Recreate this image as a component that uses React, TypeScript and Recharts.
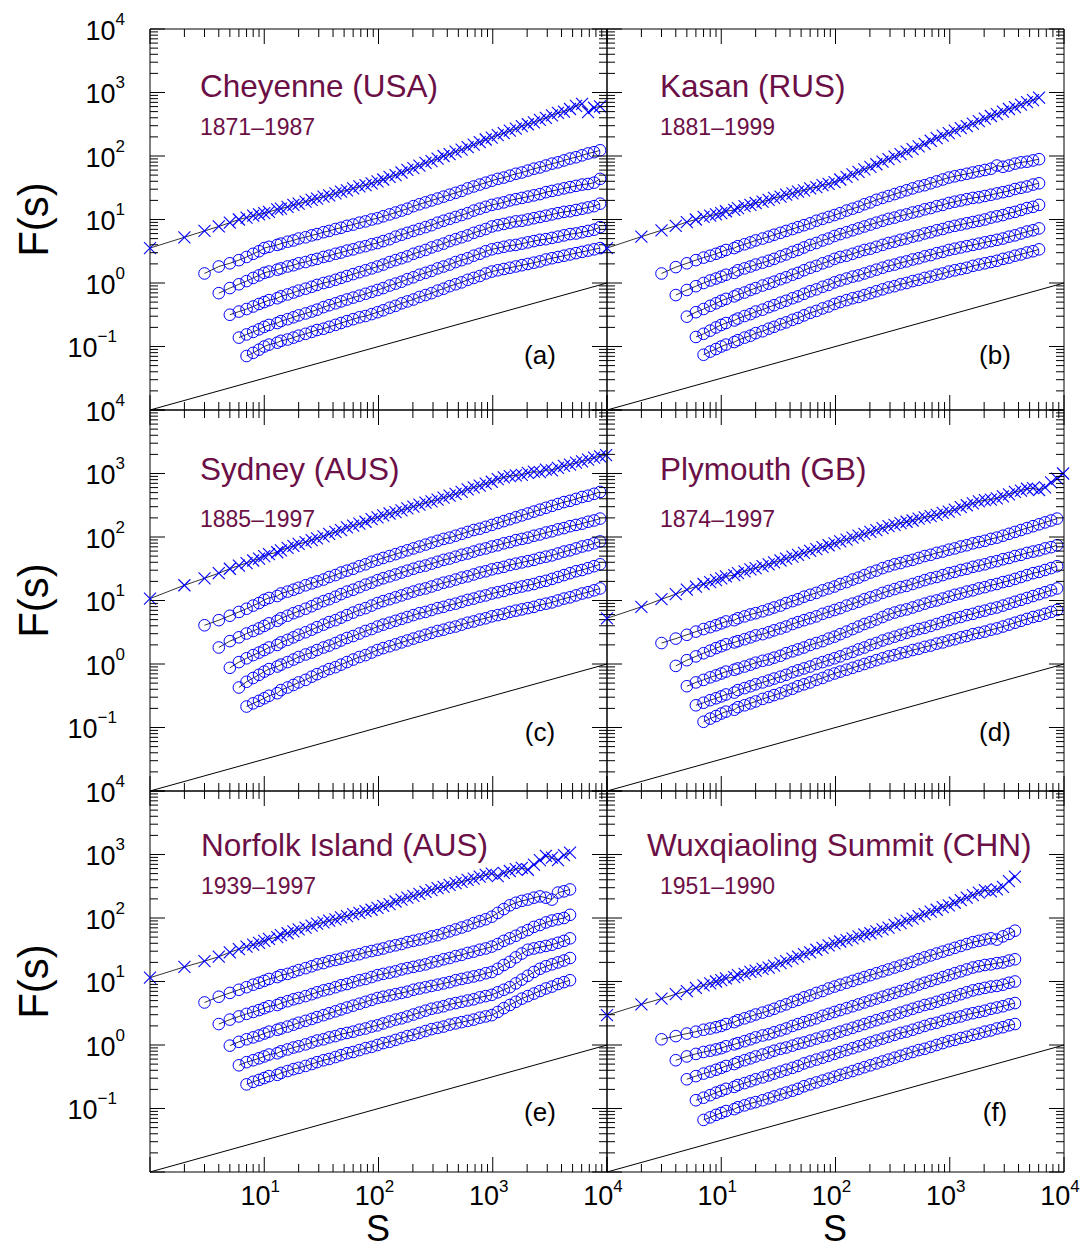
import React from 'react';
import { ScatterChart, Scatter, XAxis, YAxis } from 'recharts';

const FONT = '"Liberation Sans", Arial, Helvetica, sans-serif';
const BLUE = '#0000ff';
const MAROON = '#6b1046';

// window sizes s, shared by all six panels
const S_GRID = [
  1, 2, 3, 4, 5, 6, 7, 8, 9, 10,
  11, 13, 14, 16, 18, 20, 23, 26, 29, 33,
  37, 42, 47, 53, 60, 68, 77, 87, 98, 110,
  125, 141, 159, 179, 202, 228, 258, 291, 329, 371,
  419, 473, 534, 603, 681, 769, 868, 980, 1106, 1249,
  1410, 1592, 1797, 2029, 2291, 2586, 2920, 3297, 3722, 4202,
  4744, 5356, 6047, 6827, 7708, 8700, 9822,
];

// All series below are log10 F(s).
// Crosses start at S_GRID[0]; circles DFA1..DFA5 start at S_GRID[2]..S_GRID[6].

// (a) Cheyenne
const cheyenneCross = [
  0.55, 0.72, 0.82, 0.89, 0.95, 1.00, 1.03, 1.06, 1.08, 1.10,
  1.12, 1.16, 1.17, 1.20, 1.23, 1.25, 1.28, 1.31, 1.33, 1.36,
  1.38, 1.41, 1.44, 1.46, 1.49, 1.52, 1.54, 1.57, 1.60, 1.63,
  1.67, 1.70, 1.74, 1.78, 1.81, 1.85, 1.89, 1.92, 1.96, 2.00,
  2.03, 2.07, 2.10, 2.14, 2.18, 2.22, 2.26, 2.29, 2.33, 2.36,
  2.40, 2.43, 2.47, 2.50, 2.53, 2.57, 2.60, 2.64, 2.68, 2.70,
  2.74, 2.79, 2.82, 2.69, 2.76, 2.78,
];
const cheyenneDfa1 = [
  0.15, 0.26, 0.31, 0.36, 0.41, 0.46, 0.50, 0.55,
  0.57, 0.60, 0.62, 0.65, 0.67, 0.70, 0.72, 0.75, 0.77, 0.80,
  0.82, 0.85, 0.87, 0.90, 0.92, 0.95, 0.97, 1.00, 1.02, 1.05,
  1.08, 1.11, 1.14, 1.17, 1.21, 1.24, 1.27, 1.30, 1.33, 1.36,
  1.39, 1.42, 1.45, 1.49, 1.52, 1.55, 1.58, 1.61, 1.64, 1.66,
  1.69, 1.72, 1.74, 1.77, 1.80, 1.82, 1.85, 1.88, 1.90, 1.93,
  1.96, 1.98, 2.01, 2.04, 2.06, 2.09,
];
const cheyenneDfa2 = [
  -0.16, -0.08, -0.02, 0.03, 0.08, 0.12, 0.16,
  0.18, 0.21, 0.23, 0.26, 0.28, 0.31, 0.33, 0.36, 0.38, 0.41,
  0.43, 0.46, 0.48, 0.51, 0.53, 0.56, 0.58, 0.61, 0.63, 0.66,
  0.69, 0.73, 0.76, 0.79, 0.82, 0.85, 0.88, 0.91, 0.95, 0.98,
  1.01, 1.04, 1.07, 1.10, 1.14, 1.17, 1.20, 1.23, 1.25, 1.27,
  1.30, 1.32, 1.34, 1.36, 1.38, 1.40, 1.43, 1.45, 1.47, 1.49,
  1.51, 1.53, 1.55, 1.56, 1.58, 1.64,
];
const cheyenneDfa3 = [
  -0.50, -0.45, -0.41, -0.37, -0.33, -0.30,
  -0.27, -0.24, -0.21, -0.18, -0.15, -0.12, -0.09, -0.06, -0.03, 0.00,
  0.02, 0.05, 0.08, 0.11, 0.14, 0.17, 0.20, 0.23, 0.26, 0.29,
  0.33, 0.36, 0.39, 0.42, 0.46, 0.49, 0.52, 0.56, 0.59, 0.62,
  0.66, 0.69, 0.72, 0.75, 0.79, 0.82, 0.85, 0.89, 0.91, 0.93,
  0.95, 0.97, 0.98, 1.00, 1.02, 1.04, 1.06, 1.08, 1.10, 1.12,
  1.13, 1.15, 1.17, 1.19, 1.21, 1.25,
];
const cheyenneDfa4 = [
  -0.86, -0.81, -0.77, -0.73, -0.69,
  -0.66, -0.63, -0.60, -0.57, -0.54, -0.51, -0.48, -0.45, -0.42, -0.38,
  -0.35, -0.32, -0.29, -0.26, -0.23, -0.20, -0.17, -0.14, -0.11, -0.08,
  -0.04, -0.01, 0.02, 0.06, 0.09, 0.13, 0.16, 0.19, 0.23, 0.26,
  0.29, 0.33, 0.36, 0.39, 0.43, 0.46, 0.50, 0.53, 0.55, 0.57,
  0.59, 0.60, 0.62, 0.64, 0.66, 0.68, 0.69, 0.71, 0.73, 0.75,
  0.77, 0.78, 0.80, 0.82, 0.84, 0.88,
];
const cheyenneDfa5 = [
  -1.15, -1.10, -1.05, -1.00,
  -0.97, -0.94, -0.91, -0.89, -0.86, -0.83, -0.80, -0.77, -0.74, -0.72,
  -0.69, -0.66, -0.63, -0.60, -0.57, -0.54, -0.52, -0.49, -0.46, -0.43,
  -0.39, -0.36, -0.32, -0.29, -0.26, -0.22, -0.19, -0.16, -0.12, -0.09,
  -0.05, -0.02, 0.01, 0.05, 0.08, 0.11, 0.15, 0.18, 0.20, 0.22,
  0.24, 0.26, 0.28, 0.30, 0.32, 0.34, 0.37, 0.39, 0.41, 0.43,
  0.45, 0.47, 0.49, 0.51, 0.53, 0.55,
];

// (b) Kasan
const kasanCross = [
  0.55, 0.73, 0.83, 0.90, 0.96, 1.00, 1.04, 1.06, 1.08, 1.10,
  1.13, 1.15, 1.18, 1.21, 1.23, 1.26, 1.28, 1.31, 1.34, 1.36,
  1.39, 1.41, 1.44, 1.46, 1.49, 1.51, 1.54, 1.56, 1.59, 1.63,
  1.67, 1.71, 1.75, 1.79, 1.83, 1.87, 1.91, 1.95, 1.99, 2.03,
  2.07, 2.11, 2.15, 2.19, 2.24, 2.28, 2.32, 2.36, 2.40, 2.44,
  2.47, 2.51, 2.55, 2.59, 2.63, 2.66, 2.70, 2.74, 2.77, 2.81,
  2.85, 2.88, 2.92,
];
const kasanDfa1 = [
  0.15, 0.25, 0.31, 0.36, 0.40, 0.43, 0.46, 0.49,
  0.52, 0.55, 0.58, 0.61, 0.64, 0.67, 0.70, 0.73, 0.76, 0.79,
  0.82, 0.85, 0.88, 0.91, 0.94, 0.98, 1.01, 1.04, 1.07, 1.10,
  1.14, 1.17, 1.20, 1.24, 1.27, 1.31, 1.34, 1.37, 1.40, 1.43,
  1.46, 1.49, 1.52, 1.54, 1.57, 1.60, 1.63, 1.66, 1.68, 1.70,
  1.72, 1.74, 1.76, 1.78, 1.80, 1.85, 1.83, 1.85, 1.88, 1.90,
  1.91, 1.93, 1.95,
];
const kasanDfa2 = [
  -0.19, -0.11, -0.05, 0.00, 0.04, 0.07, 0.10,
  0.13, 0.16, 0.20, 0.23, 0.26, 0.29, 0.32, 0.35, 0.38, 0.42,
  0.45, 0.49, 0.52, 0.56, 0.60, 0.63, 0.67, 0.70, 0.74, 0.77,
  0.80, 0.83, 0.86, 0.89, 0.92, 0.95, 0.98, 1.01, 1.03, 1.06,
  1.08, 1.11, 1.13, 1.16, 1.18, 1.21, 1.23, 1.26, 1.28, 1.30,
  1.32, 1.34, 1.35, 1.37, 1.39, 1.41, 1.43, 1.45, 1.48, 1.50,
  1.52, 1.55, 1.57,
];
const kasanDfa3 = [
  -0.53, -0.46, -0.41, -0.36, -0.32, -0.28,
  -0.25, -0.21, -0.18, -0.15, -0.11, -0.08, -0.04, -0.01, 0.02, 0.06,
  0.09, 0.13, 0.16, 0.20, 0.24, 0.27, 0.31, 0.34, 0.38, 0.41,
  0.43, 0.46, 0.49, 0.52, 0.54, 0.57, 0.60, 0.63, 0.65, 0.68,
  0.70, 0.73, 0.75, 0.78, 0.80, 0.83, 0.85, 0.88, 0.90, 0.92,
  0.94, 0.96, 0.98, 1.00, 1.03, 1.05, 1.07, 1.10, 1.12, 1.15,
  1.18, 1.20, 1.23,
];
const kasanDfa4 = [
  -0.85, -0.80, -0.75, -0.70, -0.66,
  -0.63, -0.59, -0.56, -0.52, -0.49, -0.45, -0.42, -0.38, -0.35, -0.31,
  -0.28, -0.24, -0.21, -0.17, -0.13, -0.10, -0.06, -0.03, 0.01, 0.04,
  0.07, 0.10, 0.12, 0.15, 0.18, 0.21, 0.24, 0.27, 0.29, 0.32,
  0.34, 0.37, 0.39, 0.42, 0.44, 0.47, 0.49, 0.52, 0.54, 0.56,
  0.58, 0.60, 0.62, 0.64, 0.66, 0.68, 0.70, 0.73, 0.75, 0.78,
  0.81, 0.83, 0.86,
];
const kasanDfa5 = [
  -1.13, -1.08, -1.04, -1.00,
  -0.97, -0.93, -0.90, -0.86, -0.83, -0.79, -0.76, -0.72, -0.69, -0.65,
  -0.62, -0.58, -0.55, -0.51, -0.47, -0.44, -0.40, -0.37, -0.33, -0.30,
  -0.27, -0.24, -0.22, -0.19, -0.16, -0.13, -0.10, -0.07, -0.05, -0.02,
  0.00, 0.03, 0.05, 0.08, 0.10, 0.13, 0.15, 0.18, 0.20, 0.22,
  0.24, 0.27, 0.29, 0.31, 0.33, 0.35, 0.38, 0.40, 0.43, 0.45,
  0.48, 0.50, 0.53,
];

// (c) Sydney
const sydneyCross = [
  1.03, 1.24, 1.35, 1.43, 1.50, 1.55, 1.59, 1.63, 1.66, 1.70,
  1.73, 1.76, 1.79, 1.83, 1.86, 1.89, 1.92, 1.95, 1.98, 2.01,
  2.05, 2.08, 2.11, 2.15, 2.18, 2.21, 2.24, 2.28, 2.31, 2.34,
  2.37, 2.39, 2.42, 2.45, 2.48, 2.51, 2.54, 2.56, 2.59, 2.62,
  2.65, 2.68, 2.71, 2.75, 2.78, 2.81, 2.84, 2.87, 2.91, 2.94,
  2.96, 2.97, 2.98, 3.01, 3.03, 3.02, 3.06, 3.05, 3.09, 3.12,
  3.14, 3.17, 3.19, 3.22, 3.25, 3.27, 3.29,
];
const sydneyDfa1 = [
  0.61, 0.69, 0.76, 0.82, 0.87, 0.92, 0.96, 1.01,
  1.04, 1.07, 1.11, 1.14, 1.17, 1.20, 1.24, 1.27, 1.30, 1.33,
  1.37, 1.40, 1.44, 1.47, 1.50, 1.54, 1.57, 1.61, 1.64, 1.67,
  1.70, 1.73, 1.76, 1.79, 1.82, 1.85, 1.88, 1.91, 1.94, 1.97,
  1.99, 2.02, 2.05, 2.08, 2.11, 2.13, 2.16, 2.19, 2.22, 2.25,
  2.28, 2.31, 2.34, 2.37, 2.40, 2.43, 2.46, 2.49, 2.52, 2.55,
  2.57, 2.60, 2.63, 2.65, 2.68, 2.71,
];
const sydneyDfa2 = [
  0.26, 0.36, 0.42, 0.48, 0.52, 0.56, 0.60,
  0.64, 0.68, 0.72, 0.76, 0.80, 0.83, 0.87, 0.91, 0.95, 0.99,
  1.02, 1.06, 1.10, 1.14, 1.17, 1.21, 1.25, 1.28, 1.32, 1.35,
  1.38, 1.41, 1.44, 1.47, 1.50, 1.53, 1.55, 1.58, 1.61, 1.64,
  1.66, 1.69, 1.72, 1.74, 1.77, 1.80, 1.82, 1.85, 1.87, 1.90,
  1.92, 1.95, 1.97, 1.99, 2.02, 2.04, 2.07, 2.09, 2.12, 2.14,
  2.17, 2.19, 2.21, 2.24, 2.26, 2.29,
];
const sydneyDfa3 = [
  -0.06, 0.03, 0.09, 0.14, 0.18, 0.22,
  0.26, 0.30, 0.34, 0.38, 0.42, 0.46, 0.50, 0.54, 0.58, 0.62,
  0.66, 0.69, 0.73, 0.77, 0.81, 0.85, 0.88, 0.92, 0.96, 0.99,
  1.02, 1.05, 1.08, 1.11, 1.14, 1.17, 1.19, 1.22, 1.25, 1.28,
  1.30, 1.33, 1.36, 1.38, 1.41, 1.44, 1.46, 1.49, 1.51, 1.53,
  1.56, 1.58, 1.60, 1.62, 1.64, 1.67, 1.69, 1.71, 1.74, 1.77,
  1.79, 1.82, 1.85, 1.87, 1.90, 1.93,
];
const sydneyDfa4 = [
  -0.37, -0.28, -0.22, -0.17, -0.12,
  -0.08, -0.04, -0.01, 0.03, 0.07, 0.11, 0.15, 0.18, 0.22, 0.26,
  0.29, 0.33, 0.37, 0.41, 0.44, 0.48, 0.52, 0.55, 0.59, 0.62,
  0.65, 0.68, 0.71, 0.74, 0.77, 0.80, 0.82, 0.85, 0.88, 0.90,
  0.93, 0.95, 0.98, 1.01, 1.03, 1.06, 1.08, 1.11, 1.13, 1.15,
  1.18, 1.20, 1.22, 1.24, 1.26, 1.29, 1.31, 1.34, 1.37, 1.40,
  1.43, 1.46, 1.48, 1.51, 1.54, 1.57,
];
const sydneyDfa5 = [
  -0.67, -0.62, -0.58, -0.54,
  -0.50, -0.46, -0.41, -0.37, -0.33, -0.29, -0.25, -0.20, -0.16, -0.12,
  -0.08, -0.05, -0.01, 0.03, 0.07, 0.11, 0.14, 0.18, 0.22, 0.25,
  0.28, 0.31, 0.34, 0.37, 0.40, 0.43, 0.46, 0.49, 0.52, 0.54,
  0.57, 0.59, 0.62, 0.65, 0.67, 0.70, 0.72, 0.75, 0.77, 0.79,
  0.82, 0.84, 0.86, 0.88, 0.90, 0.93, 0.95, 0.97, 1.00, 1.03,
  1.05, 1.08, 1.11, 1.13, 1.16, 1.19,
];

// (d) Plymouth
const plymouthCross = [
  0.72, 0.90, 1.02, 1.10, 1.17, 1.22, 1.26, 1.29, 1.32, 1.35,
  1.38, 1.40, 1.43, 1.46, 1.49, 1.51, 1.54, 1.57, 1.60, 1.63,
  1.66, 1.69, 1.72, 1.75, 1.78, 1.81, 1.84, 1.87, 1.90, 1.93,
  1.96, 1.99, 2.02, 2.05, 2.08, 2.11, 2.14, 2.17, 2.19, 2.22,
  2.24, 2.26, 2.29, 2.31, 2.33, 2.35, 2.38, 2.40, 2.43, 2.47,
  2.50, 2.53, 2.56, 2.58, 2.59, 2.61, 2.64, 2.67, 2.71, 2.73,
  2.76, 2.77, 2.74, 2.78, 2.86, 2.92, 3.00,
];
const plymouthDfa1 = [
  0.33, 0.40, 0.46, 0.51, 0.55, 0.58, 0.61, 0.64,
  0.67, 0.69, 0.72, 0.75, 0.78, 0.80, 0.83, 0.86, 0.89, 0.92,
  0.96, 0.99, 1.02, 1.06, 1.09, 1.12, 1.16, 1.19, 1.22, 1.26,
  1.29, 1.33, 1.36, 1.40, 1.44, 1.47, 1.51, 1.54, 1.57, 1.59,
  1.62, 1.64, 1.67, 1.70, 1.72, 1.75, 1.77, 1.80, 1.82, 1.85,
  1.87, 1.90, 1.92, 1.94, 1.97, 1.99, 2.02, 2.05, 2.08, 2.11,
  2.14, 2.17, 2.20, 2.23, 2.26, 2.29,
];
const plymouthDfa2 = [
  -0.03, 0.06, 0.12, 0.17, 0.21, 0.25, 0.28,
  0.31, 0.34, 0.36, 0.39, 0.42, 0.45, 0.47, 0.50, 0.53, 0.56,
  0.59, 0.63, 0.66, 0.69, 0.72, 0.75, 0.79, 0.82, 0.85, 0.88,
  0.92, 0.95, 0.98, 1.02, 1.05, 1.08, 1.12, 1.15, 1.18, 1.21,
  1.23, 1.26, 1.29, 1.32, 1.35, 1.37, 1.40, 1.43, 1.45, 1.48,
  1.50, 1.53, 1.55, 1.57, 1.60, 1.62, 1.65, 1.67, 1.70, 1.72,
  1.75, 1.77, 1.79, 1.82, 1.84, 1.87,
];
const plymouthDfa3 = [
  -0.35, -0.29, -0.25, -0.21, -0.18, -0.15,
  -0.12, -0.09, -0.07, -0.04, -0.01, 0.02, 0.05, 0.07, 0.10, 0.13,
  0.17, 0.20, 0.23, 0.26, 0.30, 0.33, 0.36, 0.40, 0.43, 0.47,
  0.51, 0.55, 0.59, 0.63, 0.66, 0.70, 0.74, 0.78, 0.81, 0.84,
  0.86, 0.89, 0.92, 0.95, 0.98, 1.00, 1.03, 1.06, 1.09, 1.11,
  1.14, 1.16, 1.19, 1.21, 1.24, 1.26, 1.29, 1.31, 1.34, 1.37,
  1.40, 1.43, 1.45, 1.48, 1.51, 1.54,
];
const plymouthDfa4 = [
  -0.65, -0.61, -0.57, -0.54, -0.51,
  -0.48, -0.45, -0.41, -0.38, -0.35, -0.32, -0.29, -0.26, -0.23, -0.20,
  -0.17, -0.13, -0.10, -0.07, -0.04, 0.00, 0.03, 0.06, 0.09, 0.12,
  0.16, 0.19, 0.23, 0.26, 0.30, 0.33, 0.37, 0.40, 0.43, 0.46,
  0.49, 0.52, 0.55, 0.57, 0.60, 0.63, 0.66, 0.69, 0.72, 0.74,
  0.77, 0.79, 0.82, 0.84, 0.87, 0.89, 0.92, 0.95, 0.98, 1.01,
  1.04, 1.07, 1.10, 1.13, 1.16, 1.19,
];
const plymouthDfa5 = [
  -0.91, -0.86, -0.82, -0.78,
  -0.75, -0.72, -0.68, -0.65, -0.62, -0.59, -0.55, -0.52, -0.49, -0.46,
  -0.42, -0.39, -0.35, -0.32, -0.29, -0.25, -0.22, -0.18, -0.15, -0.12,
  -0.09, -0.06, -0.03, 0.00, 0.03, 0.06, 0.09, 0.12, 0.14, 0.17,
  0.19, 0.22, 0.24, 0.27, 0.29, 0.32, 0.34, 0.37, 0.39, 0.42,
  0.44, 0.47, 0.49, 0.51, 0.54, 0.56, 0.59, 0.62, 0.65, 0.68,
  0.71, 0.74, 0.76, 0.79, 0.82, 0.85,
];

// (e) Norfolk Island
const norfolkCross = [
  1.06, 1.23, 1.32, 1.39, 1.46, 1.51, 1.55, 1.58, 1.61, 1.64,
  1.67, 1.70, 1.73, 1.76, 1.79, 1.82, 1.85, 1.88, 1.91, 1.93,
  1.96, 1.98, 2.01, 2.03, 2.06, 2.08, 2.11, 2.13, 2.16, 2.19,
  2.22, 2.26, 2.29, 2.32, 2.35, 2.38, 2.41, 2.44, 2.47, 2.49,
  2.52, 2.55, 2.57, 2.60, 2.62, 2.65, 2.68, 2.70, 2.66, 2.71,
  2.74, 2.77, 2.79, 2.76, 2.84, 2.91, 2.98, 2.95, 2.91, 2.99,
  3.03,
];
const norfolkDfa1 = [
  0.67, 0.76, 0.82, 0.87, 0.91, 0.95, 0.98, 1.01,
  1.04, 1.07, 1.10, 1.12, 1.15, 1.18, 1.21, 1.24, 1.27, 1.29,
  1.32, 1.34, 1.36, 1.39, 1.41, 1.43, 1.46, 1.48, 1.50, 1.52,
  1.55, 1.57, 1.59, 1.62, 1.64, 1.66, 1.68, 1.71, 1.73, 1.76,
  1.79, 1.82, 1.85, 1.88, 1.92, 1.95, 1.98, 2.02, 2.08, 2.14,
  2.20, 2.24, 2.27, 2.29, 2.32, 2.34, 2.32, 2.29, 2.40, 2.42,
  2.45,
];
const norfolkDfa2 = [
  0.33, 0.40, 0.45, 0.49, 0.52, 0.55, 0.58,
  0.61, 0.63, 0.66, 0.69, 0.72, 0.74, 0.77, 0.80, 0.83, 0.86,
  0.88, 0.91, 0.94, 0.96, 0.99, 1.02, 1.04, 1.07, 1.10, 1.12,
  1.14, 1.16, 1.19, 1.21, 1.23, 1.25, 1.27, 1.30, 1.32, 1.35,
  1.37, 1.40, 1.42, 1.45, 1.47, 1.50, 1.52, 1.55, 1.59, 1.64,
  1.68, 1.72, 1.77, 1.81, 1.86, 1.89, 1.93, 1.96, 1.98, 2.00,
  2.05,
];
const norfolkDfa3 = [
  -0.01, 0.05, 0.09, 0.12, 0.15, 0.18,
  0.21, 0.24, 0.26, 0.29, 0.32, 0.35, 0.38, 0.41, 0.44, 0.47,
  0.50, 0.53, 0.56, 0.59, 0.62, 0.65, 0.68, 0.71, 0.74, 0.76,
  0.78, 0.80, 0.82, 0.84, 0.87, 0.89, 0.91, 0.93, 0.95, 0.97,
  0.99, 1.02, 1.04, 1.06, 1.08, 1.10, 1.13, 1.15, 1.20, 1.26,
  1.31, 1.38, 1.44, 1.50, 1.52, 1.54, 1.56, 1.58, 1.61, 1.64,
  1.68,
];
const norfolkDfa4 = [
  -0.32, -0.27, -0.24, -0.21, -0.18,
  -0.15, -0.13, -0.10, -0.07, -0.04, -0.02, 0.01, 0.04, 0.07, 0.09,
  0.12, 0.14, 0.17, 0.19, 0.21, 0.24, 0.26, 0.29, 0.31, 0.34,
  0.37, 0.40, 0.42, 0.45, 0.48, 0.51, 0.54, 0.57, 0.59, 0.61,
  0.64, 0.66, 0.68, 0.70, 0.72, 0.75, 0.77, 0.79, 0.83, 0.87,
  0.91, 0.97, 1.03, 1.09, 1.15, 1.20, 1.24, 1.27, 1.30, 1.33,
  1.37,
];
const norfolkDfa5 = [
  -0.62, -0.58, -0.55, -0.52,
  -0.49, -0.47, -0.44, -0.41, -0.38, -0.36, -0.33, -0.30, -0.27, -0.24,
  -0.22, -0.19, -0.16, -0.13, -0.11, -0.08, -0.05, -0.03, 0.00, 0.03,
  0.05, 0.08, 0.11, 0.14, 0.16, 0.19, 0.22, 0.25, 0.27, 0.29,
  0.32, 0.34, 0.36, 0.38, 0.40, 0.43, 0.45, 0.47, 0.52, 0.58,
  0.63, 0.68, 0.73, 0.77, 0.81, 0.85, 0.89, 0.92, 0.96, 0.99,
  1.02,
];

// (f) Wuxqiaoling Summit
const wuxCross = [
  0.47, 0.64, 0.73, 0.80, 0.85, 0.90, 0.94, 0.97, 1.00, 1.02,
  1.05, 1.07, 1.10, 1.12, 1.15, 1.17, 1.20, 1.22, 1.25, 1.29,
  1.32, 1.36, 1.39, 1.43, 1.46, 1.50, 1.53, 1.57, 1.60, 1.63,
  1.65, 1.68, 1.71, 1.74, 1.76, 1.79, 1.82, 1.85, 1.89, 1.92,
  1.96, 1.99, 2.03, 2.06, 2.10, 2.13, 2.17, 2.20, 2.24, 2.28,
  2.32, 2.36, 2.40, 2.44, 2.42, 2.45, 2.49, 2.58, 2.65,
];
const wuxDfa1 = [
  0.09, 0.14, 0.18, 0.21, 0.24, 0.26, 0.28, 0.30,
  0.33, 0.36, 0.39, 0.42, 0.45, 0.48, 0.51, 0.54, 0.57, 0.61,
  0.64, 0.68, 0.71, 0.75, 0.78, 0.82, 0.85, 0.89, 0.92, 0.95,
  0.98, 1.01, 1.04, 1.07, 1.10, 1.13, 1.16, 1.19, 1.22, 1.25,
  1.28, 1.31, 1.35, 1.38, 1.41, 1.44, 1.47, 1.50, 1.53, 1.56,
  1.59, 1.62, 1.64, 1.66, 1.68, 1.66, 1.71, 1.75, 1.80,
];
const wuxDfa2 = [
  -0.24, -0.18, -0.14, -0.11, -0.09, -0.07, -0.05,
  -0.02, 0.01, 0.03, 0.06, 0.09, 0.12, 0.15, 0.17, 0.20, 0.23,
  0.26, 0.30, 0.33, 0.36, 0.39, 0.42, 0.46, 0.49, 0.52, 0.55,
  0.58, 0.61, 0.64, 0.67, 0.70, 0.73, 0.76, 0.79, 0.82, 0.85,
  0.88, 0.91, 0.95, 0.98, 1.01, 1.04, 1.07, 1.10, 1.13, 1.16,
  1.19, 1.22, 1.24, 1.26, 1.27, 1.29, 1.30, 1.33, 1.35,
];
const wuxDfa3 = [
  -0.54, -0.49, -0.45, -0.42, -0.39, -0.36,
  -0.33, -0.30, -0.27, -0.24, -0.21, -0.18, -0.15, -0.12, -0.09, -0.06,
  -0.04, -0.01, 0.02, 0.04, 0.07, 0.10, 0.13, 0.15, 0.18, 0.21,
  0.24, 0.27, 0.30, 0.33, 0.36, 0.39, 0.42, 0.45, 0.48, 0.51,
  0.54, 0.57, 0.60, 0.63, 0.65, 0.68, 0.71, 0.74, 0.77, 0.80,
  0.83, 0.86, 0.88, 0.90, 0.92, 0.93, 0.95, 0.98, 1.00,
];
const wuxDfa4 = [
  -0.87, -0.83, -0.79, -0.75, -0.72,
  -0.69, -0.66, -0.63, -0.60, -0.57, -0.54, -0.51, -0.48, -0.45, -0.42,
  -0.39, -0.36, -0.33, -0.29, -0.26, -0.23, -0.20, -0.17, -0.14, -0.11,
  -0.08, -0.05, -0.02, 0.01, 0.04, 0.07, 0.10, 0.13, 0.16, 0.19,
  0.21, 0.24, 0.27, 0.30, 0.33, 0.35, 0.38, 0.41, 0.43, 0.45,
  0.48, 0.50, 0.52, 0.54, 0.57, 0.59, 0.61, 0.64, 0.66,
];
const wuxDfa5 = [
  -1.18, -1.14, -1.10, -1.07,
  -1.04, -1.01, -0.98, -0.95, -0.92, -0.90, -0.87, -0.84, -0.81, -0.78,
  -0.75, -0.72, -0.69, -0.65, -0.62, -0.59, -0.56, -0.53, -0.50, -0.47,
  -0.44, -0.41, -0.38, -0.35, -0.32, -0.29, -0.26, -0.23, -0.20, -0.17,
  -0.14, -0.11, -0.08, -0.06, -0.03, 0.00, 0.03, 0.06, 0.08, 0.11,
  0.13, 0.16, 0.18, 0.21, 0.23, 0.26, 0.28, 0.31, 0.33,
];

// slope-1/2 guide line in every panel
const GUIDE_S = [1, 10000];
const GUIDE_F = [0.01, 1];

const X_DECADES = [1, 10, 100, 1000];
const Y_DECADES = [0.01, 0.1, 1, 10, 100, 1000];
const MULT = [1, 2, 3, 4, 5, 6, 7, 8, 9];
const X_TICKS = [...X_DECADES.flatMap((d) => MULT.map((m) => d * m)), 10000];
const Y_TICKS = [...Y_DECADES.flatMap((d) => MULT.map((m) => d * m)), 10000];

const PANELS = [
  { id: '(a)', title: 'Cheyenne (USA)', years: '1871–1987', col: 0, row: 0, titleX: 200, yearsX: 200,
    cross: cheyenneCross, dfa: [cheyenneDfa1, cheyenneDfa2, cheyenneDfa3, cheyenneDfa4, cheyenneDfa5] },
  { id: '(b)', title: 'Kasan (RUS)', years: '1881–1999', col: 1, row: 0, titleX: 660, yearsX: 660,
    cross: kasanCross, dfa: [kasanDfa1, kasanDfa2, kasanDfa3, kasanDfa4, kasanDfa5] },
  { id: '(c)', title: 'Sydney (AUS)', years: '1885–1997', col: 0, row: 1, titleX: 200, yearsX: 200,
    cross: sydneyCross, dfa: [sydneyDfa1, sydneyDfa2, sydneyDfa3, sydneyDfa4, sydneyDfa5] },
  { id: '(d)', title: 'Plymouth (GB)', years: '1874–1997', col: 1, row: 1, titleX: 660, yearsX: 660,
    cross: plymouthCross, dfa: [plymouthDfa1, plymouthDfa2, plymouthDfa3, plymouthDfa4, plymouthDfa5] },
  { id: '(e)', title: 'Norfolk Island (AUS)', years: '1939–1997', col: 0, row: 2, titleX: 201, yearsX: 201,
    cross: norfolkCross, dfa: [norfolkDfa1, norfolkDfa2, norfolkDfa3, norfolkDfa4, norfolkDfa5] },
  { id: '(f)', title: 'Wuxqiaoling Summit (CHN)', years: '1951–1990', col: 1, row: 2, titleX: 647, yearsX: 660,
    cross: wuxCross, dfa: [wuxDfa1, wuxDfa2, wuxDfa3, wuxDfa4, wuxDfa5] },
];

// layout: each panel's plot box is PW x PH; axes are 1px thick so they get drawn
const PW = 457;
const PH = 381;
const COL_LEFT = [150, 607];
const ROW_TOP = [29, 410, 791];
const PAD = { top: 20, right: 20, bottom: 70, left: 140 };
const M = { top: PAD.top - 1, right: PAD.right - 1, bottom: PAD.bottom - 1, left: PAD.left - 1 };
const TITLE_BASE = [97, 480, 856];
const YEARS_BASE = [135, 527, 894];
const LETTER_BASE = [364, 741, 1121];
const LETTER_X = [540, 995];

const toPoints = (logF: number[], start: number) =>
  logF
    .map((v, i) => ({ s: S_GRID[start + i], F: Math.pow(10, v) }))
    .filter((p) => p.s !== undefined);

const guidePoints = GUIDE_S.map((s, i) => ({ s, F: GUIDE_F[i] }));

const isMajor = (v: number) => Math.abs(Math.log10(v) - Math.round(Math.log10(v))) < 1e-6;

function XTick({ x, y, payload, side, label }: any) {
  const v = payload.value;
  const major = isMajor(v);
  const exp = Math.round(Math.log10(v));
  return (
    <g>
      <line x1={x} y1={y} x2={x} y2={y + side * (major ? 15 : 8)} stroke="#000" strokeWidth={1} />
      {label && major && exp > 0 && (
        <text x={x - 4} y={y + 33} textAnchor="middle" fontFamily={FONT} fontSize={27} fill="#000">
          10<tspan dy={-13} fontSize={17}>{exp}</tspan>
        </text>
      )}
    </g>
  );
}

function YTick({ x, y, payload, side, label }: any) {
  const v = payload.value;
  const major = isMajor(v);
  const exp = Math.round(Math.log10(v));
  return (
    <g>
      <line x1={x} y1={y} x2={x + side * (major ? 15 : 8)} y2={y} stroke="#000" strokeWidth={1} />
      {label && major && exp > -2 && (
        <text x={x - (exp < 0 ? 33 : 25)} y={y + 10.5} textAnchor="end" fontFamily={FONT} fontSize={27} fill="#000">
          10<tspan dy={-15} fontSize={17}>{exp < 0 ? `\u2212${-exp}` : exp}</tspan>
        </text>
      )}
    </g>
  );
}

const crossShape = (p: any) => (
  <g>
    <line x1={p.cx - 6} y1={p.cy - 6} x2={p.cx + 6} y2={p.cy + 6} stroke={BLUE} strokeWidth={1.1} />
    <line x1={p.cx - 6} y1={p.cy + 6} x2={p.cx + 6} y2={p.cy - 6} stroke={BLUE} strokeWidth={1.1} />
  </g>
);
const circleShape = (p: any) => <circle cx={p.cx} cy={p.cy} r={5.8} fill="none" stroke={BLUE} strokeWidth={1} />;
const noShape = () => <g />;

const LINE = { stroke: '#000', strokeWidth: 0.8 };
const GUIDE_LINE = { stroke: '#000', strokeWidth: 1 };
const AXIS_LINE = { stroke: '#000', strokeWidth: 1 };

function Panel({ p }: { p: (typeof PANELS)[number] }) {
  const showX = p.row === 2;
  const showY = p.col === 0;
  const axisCommon = { type: 'number' as const, scale: 'log' as const, interval: 0, tickSize: 0, tickMargin: 0, tickLine: false, axisLine: AXIS_LINE };
  return (
    <div style={{ position: 'absolute', left: COL_LEFT[p.col] - PAD.left, top: ROW_TOP[p.row] - PAD.top }}>
      <ScatterChart width={PW + PAD.left + PAD.right} height={PH + PAD.top + PAD.bottom} margin={M}>
        <XAxis xAxisId="b" dataKey="s" domain={[1, 10000]} ticks={X_TICKS} height={1} {...axisCommon}
          tick={(t: any) => <XTick {...t} side={-1} label={showX} />} />
        <XAxis xAxisId="t" dataKey="s" orientation="top" domain={[1, 10000]} ticks={X_TICKS} height={1} {...axisCommon}
          tick={(t: any) => <XTick {...t} side={1} label={false} />} />
        <YAxis yAxisId="l" dataKey="F" domain={[0.01, 10000]} ticks={Y_TICKS} width={1} {...axisCommon}
          tick={(t: any) => <YTick {...t} side={1} label={showY} />} />
        <YAxis yAxisId="r" dataKey="F" orientation="right" domain={[0.01, 10000]} ticks={Y_TICKS} width={1} {...axisCommon}
          tick={(t: any) => <YTick {...t} side={-1} label={false} />} />
        <Scatter xAxisId="t" yAxisId="r" data={guidePoints} line={GUIDE_LINE} lineType="joint" shape={noShape} isAnimationActive={false} />
        <Scatter xAxisId="b" yAxisId="l" data={toPoints(p.cross, 0)} line={LINE} lineType="joint" shape={crossShape} isAnimationActive={false} />
        {p.dfa.map((d, k) => (
          <Scatter key={k} xAxisId="b" yAxisId="l" data={toPoints(d, k + 2)} line={LINE} lineType="joint" shape={circleShape} isAnimationActive={false} />
        ))}
      </ScatterChart>
    </div>
  );
}

export default function App() {
  return (
    <div style={{ position: 'absolute', left: 0, top: 0, width: 1082, height: 1249, background: '#fff', overflow: 'hidden' }}>
      {PANELS.map((p) => (
        <Panel key={p.id} p={p} />
      ))}
      <svg width={1082} height={1249} style={{ position: 'absolute', left: 0, top: 0, pointerEvents: 'none' }}>
        {PANELS.map((p) => (
          <g key={p.id} fontFamily={FONT}>
            <text x={p.titleX} y={TITLE_BASE[p.row]} fontSize={31.5} fill={MAROON}>{p.title}</text>
            <text x={p.yearsX} y={YEARS_BASE[p.row]} fontSize={23} fill={MAROON}>{p.years}</text>
            <text x={LETTER_X[p.col]} y={LETTER_BASE[p.row]} fontSize={26} textAnchor="middle" fill="#000">{p.id}</text>
          </g>
        ))}
        {ROW_TOP.map((t) => (
          <text key={t} x={0} y={0} transform={`translate(33 ${t + PH / 2}) rotate(-90)`} textAnchor="middle"
            dominantBaseline="central" fontFamily={FONT} fontSize={42} fill="#000">F(s)</text>
        ))}
        {COL_LEFT.map((l) => (
          <text key={l} x={l + 228} y={1241} textAnchor="middle" fontFamily={FONT} fontSize={36} fill="#000">S</text>
        ))}
      </svg>
    </div>
  );
}
